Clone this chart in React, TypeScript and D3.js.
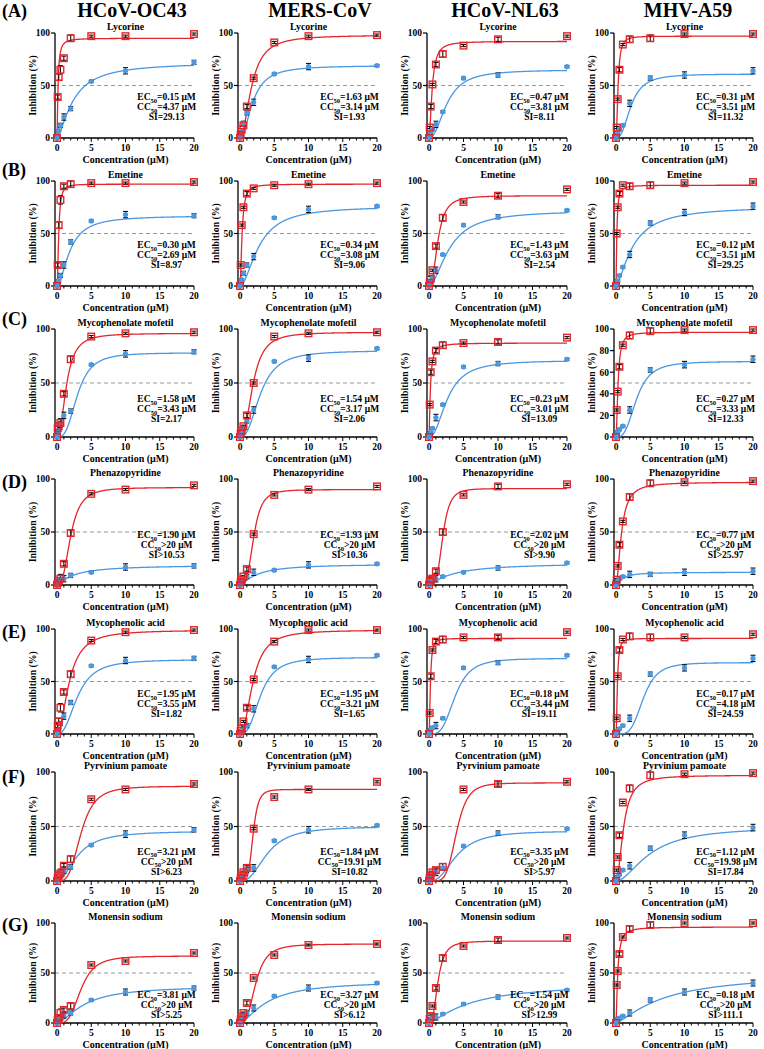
import React from "react";
import * as d3 from "d3";

// ---------- shared categories ----------
const concentrations = [0, 0.1, 0.25, 0.5, 1, 2, 5, 10, 20];
const viruses = ["HCoV-OC43", "MERS-CoV", "HCoV-NL63", "MHV-A59"];
const rowLabels = ["(A)", "(B)", "(C)", "(D)", "(E)", "(F)", "(G)"];
const drugs = [
  "Lycorine",
  "Emetine",
  "Mycophenolate mofetil",
  "Phenazopyridine",
  "Mycophenolic acid",
  "Pyrvinium pamoate",
  "Monensin sodium",
];
const xTicks = [0, 5, 10, 15, 20];
const xMinorTicks = d3.range(0, 21, 1);
const yTicks = [0, 50, 100];
const yTicksFine = [0, 20, 40, 60, 80, 100];

// ---------- values (per drug: [OC43, MERS, NL63, MHV]) ----------
// antiviral inhibition (red squares)
const lycorineAntiviral = [
  [0, 39, 58, 65, 76, 95, 97, 97, 99],
  [0, 3, 8, 12, 30, 57, 91, 97, 98],
  [0, 10, 30, 51, 70, 80, 88, 94, 97],
  [0, 10, 37, 65, 89, 94, 95, 99, 99],
];
const lycorineCytotox = [
  [0, 3, 7, 12, 20, 28, 54, 64, 72],
  [0, 2, 6, 14, 24, 34, 61, 68, 69],
  [0, 2, 5, 8, 13, 25, 57, 60, 68],
  [0, 2, 5, 8, 12, 33, 57, 60, 64],
];
const emetineAntiviral = [
  [0, 20, 58, 82, 95, 97, 98, 98, 99],
  [0, 20, 58, 75, 88, 93, 96, 97, 98],
  [0, 3, 7, 15, 38, 65, 80, 86, 92],
  [0, 50, 75, 88, 96, 95, 96, 98, 99],
];
const emetineCytotox = [
  [0, 2, 5, 10, 20, 42, 62, 68, 67],
  [0, 2, 6, 12, 20, 28, 65, 73, 76],
  [0, 2, 5, 8, 15, 30, 58, 66, 72],
  [0, 2, 5, 10, 18, 30, 60, 70, 76],
];
const mofetilAntiviral = [
  [0, 8, 10, 13, 40, 72, 93, 96, 97],
  [0, 3, 6, 10, 20, 50, 93, 96, 97],
  [0, 30, 60, 70, 80, 85, 87, 88, 92],
  [0, 25, 42, 65, 85, 94, 98, 99, 99],
];
const mofetilCytotox = [
  [0, 3, 6, 12, 20, 24, 67, 77, 79],
  [0, 2, 4, 8, 15, 25, 70, 73, 82],
  [0, 2, 4, 8, 18, 30, 65, 68, 72],
  [0, 3, 5, 7, 10, 25, 62, 67, 72],
];
const phenazopyridineAntiviral = [
  [0, 2, 4, 6, 20, 49, 86, 90, 94],
  [0, 3, 5, 8, 15, 48, 85, 90, 93],
  [0, 3, 5, 6, 13, 50, 85, 93, 95],
  [0, 5, 18, 38, 60, 83, 96, 97, 98],
];
const phenazopyridineCytotox = [
  [0, 2, 3, 5, 6, 9, 12, 17, 18],
  [0, 2, 4, 6, 8, 12, 14, 19, 20],
  [0, 1, 3, 5, 6, 8, 12, 16, 21],
  [0, 2, 4, 6, 8, 10, 10, 12, 13],
];
const mycophenolicAntiviral = [
  [0, 8, 12, 25, 40, 57, 89, 97, 99],
  [0, 3, 5, 12, 25, 52, 88, 99, 99],
  [0, 20, 55, 80, 88, 90, 92, 92, 97],
  [0, 15, 55, 80, 90, 93, 92, 92, 95],
];
const mycophenolicCytotox = [
  [0, 2, 4, 10, 17, 30, 65, 70, 72],
  [0, 2, 3, 5, 8, 24, 64, 71, 75],
  [0, 2, 4, 6, 8, 15, 63, 68, 75],
  [0, 2, 3, 5, 8, 15, 57, 63, 72],
];
const pyrviniumAntiviral = [
  [0, 3, 5, 7, 14, 20, 75, 84, 89],
  [0, 3, 5, 8, 12, 48, 77, 84, 91],
  [0, 3, 5, 8, 10, 13, 84, 89, 91],
  [0, 10, 22, 42, 72, 85, 97, 98, 99],
];
const pyrviniumCytotox = [
  [0, 2, 4, 7, 10, 13, 33, 43, 47],
  [0, 2, 4, 6, 10, 12, 37, 47, 51],
  [0, 2, 4, 6, 8, 12, 32, 44, 48],
  [0, 2, 4, 6, 10, 14, 30, 42, 49],
];
const monensinAntiviral = [
  [0, 3, 5, 10, 13, 17, 58, 62, 70],
  [0, 3, 6, 10, 20, 45, 68, 78, 79],
  [0, 4, 7, 17, 35, 65, 77, 83, 85],
  [0, 38, 52, 69, 86, 94, 98, 100, 100],
];
const monensinCytotox = [
  [0, 1, 3, 5, 8, 10, 23, 31, 35],
  [0, 2, 4, 8, 10, 15, 27, 35, 40],
  [0, 2, 4, 6, 6, 9, 19, 26, 33],
  [0, 2, 4, 5, 7, 10, 23, 31, 40],
];

// error bars (SD) for antiviral / cytotoxicity points
const antiviralErr = [
  [0, 2, 3, 4, 2, 3, 1, 1, 1],
  [0, 1, 1, 1, 2, 1, 1, 1, 1],
  [0, 1, 2, 1, 2, 3, 1, 2, 1],
  [0, 1, 1, 2, 1, 3, 3, 1, 1],
];
const cytotoxErr = [
  [0, 1, 1, 2, 3, 2, 1, 3, 2],
  [0, 1, 1, 2, 2, 3, 1, 3, 1],
  [0, 1, 1, 1, 3, 1, 1, 2, 1],
  [0, 1, 1, 1, 1, 3, 2, 3, 3],
];

// fitted curve parameters [top, midpoint, Hill slope]
const antiviralFits = [
  [[95, 0.15, 1.5], [98, 1.7, 2], [92, 0.46, 1.8], [97, 0.3, 2]],
  [[97, 0.25, 2], [97, 0.3, 1.8], [86, 1.3, 2.5], [96, 0.12, 1.5]],
  [[96, 1.4, 2.3], [97, 1.9, 2.5], [87, 0.2, 1.5], [97, 0.3, 1.8]],
  [[92, 2, 2.8], [90, 2, 3.5], [91, 2, 4], [97, 0.8, 1.8]],
  [[99, 1.8, 2], [99, 1.9, 2.2], [91, 0.2, 2], [91, 0.2, 2]],
  [[87, 3.5, 3.5], [84, 1.9, 5], [90, 4, 5], [97, 1.1, 2]],
  [[67, 3.5, 3.5], [79, 2.3, 3], [82, 1.3, 2.8], [96, 0.25, 1.5]],
];
const cytotoxFits = [
  [[72, 2.4, 1.5], [69, 1.9, 2], [65, 2.6, 2.2], [61, 2.2, 2.5]],
  [[67, 1.9, 1.8], [76, 2.8, 1.8], [72, 3, 1.8], [76, 2.5, 1.5]],
  [[78, 3, 3], [80, 3, 2.5], [71, 2.7, 2.2], [70, 3, 3]],
  [[19, 2.5, 1.2], [20, 2.5, 1.3], [21, 3.5, 1.2], [12, 1, 1.5]],
  [[71, 3, 2.5], [73, 3, 2.8], [72, 3.8, 3.5], [68, 4, 4]],
  [[46, 3, 2], [50, 4, 2.5], [46, 4, 2.5], [50, 5, 1.8]],
  [[37, 4, 1.6], [42, 4, 1.5], [40, 6, 1.3], [50, 7, 1.3]],
];

// annotation labels
const ec50Labels = [
  ["0.15", "1.63", "0.47", "0.31"],
  ["0.30", "0.34", "1.43", "0.12"],
  ["1.58", "1.54", "0.23", "0.27"],
  ["1.90", "1.93", "2.02", "0.77"],
  ["1.95", "1.95", "0.18", "0.17"],
  ["3.21", "1.84", "3.35", "1.12"],
  ["3.81", "3.27", "1.54", "0.18"],
];
const cc50Labels = [
  ["4.37", "3.14", "3.81", "3.51"],
  ["2.69", "3.08", "3.63", "3.51"],
  ["3.43", "3.17", "3.01", "3.33"],
  [">20", ">20", ">20", ">20"],
  ["3.55", "3.21", "3.44", "4.18"],
  [">20", "19.91", ">20", "19.98"],
  [">20", ">20", ">20", ">20"],
];
const siLabels = [
  ["29.13", "1.93", "8.11", "11.32"],
  ["8.97", "9.06", "2.54", "29.25"],
  ["2.17", "2.06", "13.09", "12.33"],
  [">10.53", ">10.36", ">9.90", ">25.97"],
  ["1.82", "1.65", "19.11", "24.59"],
  [">6.23", "10.82", ">5.97", "17.84"],
  [">5.25", ">6.12", ">12.99", ">111.1"],
];

const antiviralData = [
  lycorineAntiviral,
  emetineAntiviral,
  mofetilAntiviral,
  phenazopyridineAntiviral,
  mycophenolicAntiviral,
  pyrviniumAntiviral,
  monensinAntiviral,
];
const cytotoxData = [
  lycorineCytotox,
  emetineCytotox,
  mofetilCytotox,
  phenazopyridineCytotox,
  mycophenolicCytotox,
  pyrviniumCytotox,
  monensinCytotox,
];

// ---------- layout ----------
const W = 764;
const H = 1049;
const colX = [
  [57, 194],
  [240, 377],
  [429, 567],
  [616, 753],
];
const rowY = [
  [33, 138],
  [181, 286],
  [329, 437],
  [479, 585],
  [629, 734],
  [772, 881],
  [923, 1023],
];
const rowLabelY = [17, 176, 325, 488, 638, 783, 931];
const headerX = [132, 320, 505, 688];
const annotValue = [36, 36, 32, 44, 35, 24, 25];

const RED = "#e3262b";
const BLUE = "#4a97e2";
const FONT = "'Liberation Serif', 'Times New Roman', serif";

function hill(p: number[]) {
  return (t: number) => (t <= 0 ? 0 : p[0] / (1 + Math.pow(p[1] / t, p[2])));
}

function Sub({ pre, val }: { pre: string; val: string }) {
  const rel = val.startsWith(">") ? val : "=" + val;
  return (
    <>
      <tspan>{pre}</tspan>
      <tspan fontSize={6.5} dy={2.5}>
        50
      </tspan>
      <tspan dy={-2.5}>{rel + " μM"}</tspan>
    </>
  );
}

function Panel({ r, c }: { r: number; c: number }) {
  const [x0, x1] = colX[c];
  const [yTop, yBot] = rowY[r];
  const x = d3.scaleLinear().domain([0, 20]).range([x0, x1]);
  const y = d3.scaleLinear().domain([0, 100]).range([yBot, yTop]);
  const axX = x0 - 2;
  const samples = d3.range(0, 20.0001, 0.02);
  const red = antiviralData[r][c];
  const blue = cytotoxData[r][c];
  const fRed = hill(antiviralFits[r][c]);
  const fBlue = hill(cytotoxFits[r][c]);
  const lineRed = d3
    .line<number>()
    .x((t) => x(t))
    .y((t) => y(fRed(t)))(samples) as string;
  const lineBlue = d3
    .line<number>()
    .x((t) => x(t))
    .y((t) => y(fBlue(t)))(samples) as string;
  const ticksY = r === 2 && c === 3 ? yTicksFine : yTicks;
  const aX = x0 + (x1 - x0) * 0.8;
  const aY = y(annotValue[r]);
  const midY = (yTop + yBot) / 2;
  return (
    <g fontFamily={FONT} fontWeight="bold">
      <text x={(x0 + x1) / 2} y={yTop - 3} fontSize={9.8} textAnchor="middle">
        {drugs[r]}
      </text>
      {/* dashed 50% line */}
      <line x1={axX} x2={x1} y1={y(50)} y2={y(50)} stroke="#9a9a9a" strokeWidth={1} strokeDasharray="4,3" />
      {/* axes */}
      <line x1={axX} x2={axX} y1={y(0)} y2={y(100)} stroke="#000" strokeWidth={1.3} />
      <line x1={axX} x2={x1} y1={y(0)} y2={y(0)} stroke="#000" strokeWidth={1.3} />
      {ticksY.map((t) => (
        <g key={"yt" + t}>
          <line x1={axX - 4} x2={axX} y1={y(t)} y2={y(t)} stroke="#000" strokeWidth={1.2} />
          <text x={axX - 5} y={y(t)} dy="0.35em" fontSize={9.5} textAnchor="end">
            {t}
          </text>
        </g>
      ))}
      {xMinorTicks.map((t) => (
        <line
          key={"xm" + t}
          x1={x(t)}
          x2={x(t)}
          y1={y(0)}
          y2={y(0) + (xTicks.includes(t) ? 4 : 2.5)}
          stroke="#000"
          strokeWidth={1}
        />
      ))}
      {xTicks.map((t) => (
        <text key={"xt" + t} x={x(t)} y={y(0) + 13} fontSize={9.5} textAnchor="middle">
          {t}
        </text>
      ))}
      <text x={(x0 + x1) / 2} y={y(0) + 24.5} fontSize={10} textAnchor="middle">
        Concentration (μM)
      </text>
      <text
        transform={`translate(${axX - 22},${midY}) rotate(-90)`}
        fontSize={9.8}
        textAnchor="middle"
        dy="0.35em"
      >
        Inhibition (%)
      </text>
      {/* curves */}
      <path d={lineBlue} fill="none" stroke={BLUE} strokeWidth={1.3} />
      <path d={lineRed} fill="none" stroke={RED} strokeWidth={1.3} />
      {/* error bars */}
      {concentrations.map((t, i) => {
        const items = [
          [blue[i], cytotoxErr[c][i]],
          [red[i], antiviralErr[c][i]],
        ];
        return items.map(([v, e], k) =>
          e > 0 ? (
            <g key={"e" + i + "_" + k} stroke="#111" strokeWidth={1.1}>
              <line x1={x(t)} x2={x(t)} y1={y(v - e)} y2={y(v + e)} />
              <line x1={x(t) - 2.5} x2={x(t) + 2.5} y1={y(v - e)} y2={y(v - e)} />
              <line x1={x(t) - 2.5} x2={x(t) + 2.5} y1={y(v + e)} y2={y(v + e)} />
            </g>
          ) : null
        );
      })}
      {/* points */}
      {concentrations.map((t, i) => (
        <circle key={"b" + i} cx={x(t)} cy={y(blue[i])} r={2.6} fill={BLUE} />
      ))}
      {concentrations.map((t, i) => (
        <rect
          key={"r" + i}
          x={x(t) - 3.3}
          y={y(red[i]) - 3.3}
          width={6.6}
          height={6.6}
          fill="none"
          stroke={RED}
          strokeWidth={1.4}
        />
      ))}
      {/* annotation */}
      <text x={aX} y={aY} fontSize={9.5} textAnchor="middle">
        <Sub pre="EC" val={ec50Labels[r][c]} />
      </text>
      <text x={aX} y={aY + 10} fontSize={9.5} textAnchor="middle">
        <Sub pre="CC" val={cc50Labels[r][c]} />
      </text>
      <text x={aX} y={aY + 20} fontSize={9.5} textAnchor="middle">
        {"SI" + (siLabels[r][c].startsWith(">") ? siLabels[r][c] : "=" + siLabels[r][c])}
      </text>
    </g>
  );
}

export default function App() {
  return (
    <svg width={W} height={H} style={{ position: "absolute", left: 0, top: 0, background: "#fff" }}>
      <rect width={W} height={H} fill="#fff" />
      {viruses.map((v, c) => (
        <text
          key={v}
          x={headerX[c]}
          y={17}
          fontSize={20}
          fontWeight="bold"
          textAnchor="middle"
          fontFamily={FONT}
        >
          {v}
        </text>
      ))}
      {rowLabels.map((l, r) => (
        <text key={l} x={2} y={rowLabelY[r]} fontSize={18} fontWeight="bold" fontFamily={FONT}>
          {l}
        </text>
      ))}
      {drugs.map((d, r) => viruses.map((v, c) => <Panel key={d + v} r={r} c={c} />))}
    </svg>
  );
}
